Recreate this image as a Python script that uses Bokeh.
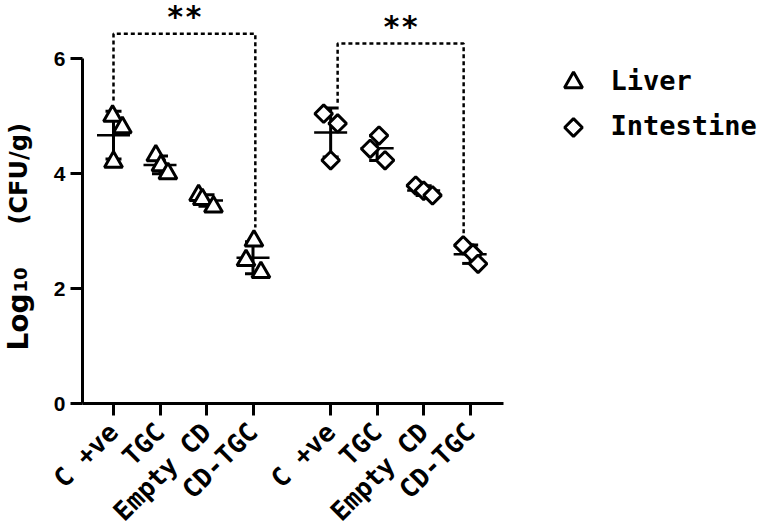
import math
import numpy as np
from bokeh.plotting import figure
from bokeh.models import FixedTicker, Range1d, Label, ColumnDataSource
from bokeh.core.properties import value
from bokeh.embed import file_html
from bokeh.resources import INLINE

# ---------------- data ----------------
categories = ["C +ve", "TGC", "Empty CD", "CD-TGC"]
tissues = ["Liver", "Intestine"]
liver = [[5.00, 4.80, 4.20], [4.31, 4.14, 4.00], [3.62, 3.55, 3.42], [2.83, 2.49, 2.28]]
intestine = [[5.04, 4.87, 4.23], [4.66, 4.43, 4.23], [3.79, 3.70, 3.62], [2.75, 2.61, 2.43]]
liver_jitter = [[-0.02, 0.19, 0.0], [-0.09, 0.02, 0.17], [-0.17, -0.09, 0.15], [0.02, -0.15, 0.17]]
intestine_jitter = [[-0.15, 0.15, 0.0], [0.04, -0.15, 0.17], [-0.17, 0.0, 0.19], [-0.15, 0.06, 0.17]]
y_ticks = [0, 2, 4, 6]
sig_labels = ["**", "**"]
bracket_left_y = [5.27, 5.23]
bracket_right_y = [3.06, 2.89]
bracket_top_y = [6.43, 6.26]
y_label_parts = ["Log", "10", "(CFU/g)"]

MONO = "DejaVu Sans Mono"
SANS = "DejaVu Sans"
GROUP_GAP = 4.67

# canvas geometry: the frame fills the whole canvas, axes sit at fixed locations
W, H = 770, 530
PX_PER_X, PX_PER_Y = 46.5, 57.5
X_AT_PX0, Y_AT_PY0 = 1 - 113 / PX_PER_X, 403 / PX_PER_Y
X0, X1 = X_AT_PX0, X_AT_PX0 + W / PX_PER_X
Y1, Y0 = Y_AT_PY0, Y_AT_PY0 - H / PX_PER_Y

def px_x(px):
    return X_AT_PX0 + px / PX_PER_X

def px_y(py):
    return Y_AT_PY0 - py / PX_PER_Y

group_x = [[round(i + 1 + g * GROUP_GAP, 2) for i in range(len(categories))] for g in range(2)]
all_x = group_x[0] + group_x[1]
labels = {x: c for g in range(2) for x, c in zip(group_x[g], categories)}

p = figure(width=W, height=H, output_backend="svg", toolbar_location=None,
           x_range=Range1d(X0, X1), y_range=Range1d(Y0, Y1), min_border=0)
p.outline_line_color = None
p.grid.visible = False
p.background_fill_color = "white"
p.border_fill_color = "white"

for ax in (p.xaxis[0], p.yaxis[0]):
    ax.axis_line_width = 3
    ax.major_tick_line_width = 3
    ax.major_tick_out = 12
    ax.major_tick_in = 0
    ax.minor_tick_line_color = None
    ax.axis_line_color = "black"
    ax.major_tick_line_color = "black"

y_axis_x = px_x(82)
p.yaxis.fixed_location = y_axis_x
p.yaxis.ticker = FixedTicker(ticks=y_ticks)
p.yaxis.bounds = (0, 6)
p.yaxis.major_label_text_font = "Liberation Sans"
p.yaxis.major_label_text_font_style = "bold"
p.yaxis.major_label_text_font_size = "21px"
p.yaxis.major_label_text_color = "black"
p.yaxis.major_label_standoff = 5

p.xaxis.fixed_location = 0
p.xaxis.ticker = FixedTicker(ticks=all_x)
p.xaxis.bounds = (y_axis_x, px_x(503))
p.xaxis.major_label_overrides = labels
p.xaxis.major_label_orientation = math.pi / 4
p.xaxis.major_label_text_font = MONO
p.xaxis.major_label_text_font_style = "bold"
p.xaxis.major_label_text_font_size = "26px"
p.xaxis.major_label_text_color = "black"
p.xaxis.major_label_standoff = 12

# y axis title (with subscript)
for txt, xs, ys, fs in zip(y_label_parts, [18, 20, 18], [350, 292, 224], ["28px", "18px", "24px"]):
    p.add_layout(Label(x=px_x(xs), y=px_y(ys), text=txt,
                       angle=math.pi / 2, text_align="left", text_baseline="alphabetic",
                       text_font=SANS, text_font_style="bold", text_font_size=fs,
                       text_color="black"))

# error bars + means
for g, data in enumerate([liver, intestine]):
    arr = np.array(data)
    means = arr.mean(axis=1)
    sds = arr.std(axis=1, ddof=1)
    xs = group_x[g]
    p.segment(x0=xs, x1=xs, y0=means - sds, y1=means + sds, line_color="black", line_width=3)
    p.scatter(x=xs + xs, y=list(means - sds) + list(means + sds), marker="dash", size=16,
              line_color="black", line_width=3)
    p.scatter(x=xs, y=means, marker="dash", size=33, line_color="black", line_width=2.5)

# points
marker_style = [dict(marker="triangle", size=18, angle=0.0),
                dict(marker="square", size=12.5, angle=math.pi / 4)]
for g, (data, jit) in enumerate([(liver, liver_jitter), (intestine, intestine_jitter)]):
    px, py = [], []
    for i, vals in enumerate(data):
        for v, j in zip(vals, jit[i]):
            px.append(group_x[g][i] + j)
            py.append(v)
    p.scatter(x=px, y=py, fill_color="white", line_color="black", line_width=3, **marker_style[g])

# legend (drawn by hand so that the diamond keeps its rotation)
leg_y_px = [82, 127]
for g in range(2):
    p.scatter(x=[px_x(573)], y=[px_y(leg_y_px[g])], fill_color="white", line_color="black",
              line_width=3, **marker_style[g])
    p.add_layout(Label(x=px_x(610), y=px_y(leg_y_px[g] - 2), text=tissues[g], text_align="left",
                       text_baseline="middle", text_font=MONO, text_font_style="bold",
                       text_font_size="27px", text_color="black"))

# significance brackets
bx_left = [group_x[0][0], group_x[1][0] + 0.15]
bx_right = [group_x[0][3] + 0.05, group_x[1][3] - 0.14]
for k in range(2):
    p.line(x=[bx_left[k], bx_left[k], bx_right[k], bx_right[k]],
           y=[bracket_left_y[k], bracket_top_y[k], bracket_top_y[k], bracket_right_y[k]],
           line_color="black", line_width=2.5, line_dash="4 3")
star_src = ColumnDataSource(dict(x=[(a + b) / 2 for a, b in zip(bx_left, bx_right)],
                                 y=[t + 0.3 for t in bracket_top_y], t=sig_labels))
p.text(x="x", y="y", text="t", source=star_src, text_font=value(MONO), text_font_style="bold",
       text_font_size="30px", text_align="center", text_baseline="middle", text_color="black")

open("out.html", "w").write(file_html(p, INLINE))
